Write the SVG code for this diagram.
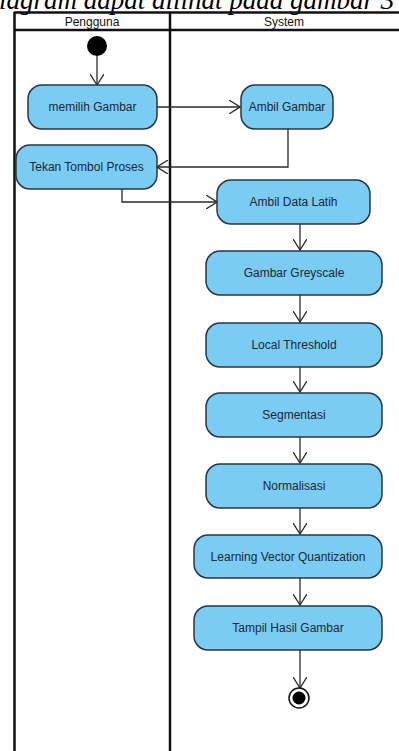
<svg xmlns="http://www.w3.org/2000/svg" width="399" height="751" viewBox="0 0 399 751">
<style>
.cap{font-family:"Liberation Serif","Times New Roman",serif;font-style:italic;font-size:27px;fill:#000}
.hdr{font-family:"Liberation Sans",Arial,sans-serif;font-size:12px;fill:#111;text-anchor:middle}
.lane{fill:none;stroke:#111;stroke-width:2.5}
.act rect{fill:#7accf2;stroke:#2b3440;stroke-width:1.5}
.act text{font-family:"Liberation Sans",Arial,sans-serif;font-size:12px;fill:#1c2636;text-anchor:middle;dominant-baseline:central}
.edge{fill:none;stroke:#2a2a2a;stroke-width:1.3;marker-end:url(#open)}
</style>
<defs>
<marker id="open" viewBox="0 0 12 14" refX="11" refY="7" markerWidth="12" markerHeight="14" markerUnits="userSpaceOnUse" orient="auto">
<path d="M0,0 L11,7 L0,14" fill="none" stroke="#2a2a2a" stroke-width="1.3"/>
</marker>
</defs>
<rect width="399" height="751" fill="#fff"/>
<text class="cap" x="-1" y="9">iagram dapat dilihat pada gambar 3</text>
<g id="lanes">
<line class="lane" x1="14" y1="12.5" x2="399" y2="12.5" stroke-width="1.5"/>
<line class="lane" x1="14" y1="30" x2="399" y2="30"/>
<line class="lane" x1="14.5" y1="12" x2="14.5" y2="751"/>
<line class="lane" x1="170" y1="12" x2="170" y2="751"/>
<text class="hdr" x="92" y="25.5">Pengguna</text>
<text class="hdr" x="284" y="25.5">System</text>
</g>
<g id="connectors">
<line class="edge" x1="97" y1="56" x2="97" y2="85"/>
<line class="edge" x1="157" y1="107" x2="240" y2="107"/>
<polyline class="edge" points="288,129 288,167 157,167"/>
<polyline class="edge" points="122,189 122,202 217,202"/>
<line class="edge" x1="300" y1="224" x2="300" y2="250"/>
<line class="edge" x1="300" y1="295" x2="300" y2="322"/>
<line class="edge" x1="300" y1="367" x2="300" y2="392"/>
<line class="edge" x1="300" y1="437" x2="300" y2="463"/>
<line class="edge" x1="300" y1="508" x2="300" y2="534"/>
<line class="edge" x1="300" y1="578" x2="300" y2="605"/>
<line class="edge" x1="300" y1="650" x2="300" y2="688"/>
</g>
<g id="start"><circle cx="97" cy="46" r="10" fill="#000"/></g>
<g id="memilih" class="act"><rect x="28" y="85" width="129" height="44" rx="14"/><text x="92.5" y="107">memilih Gambar</text></g>
<g id="ambilGambar" class="act"><rect x="241" y="85" width="92" height="44" rx="14"/><text x="287" y="107">Ambil Gambar</text></g>
<g id="tekan" class="act"><rect x="16" y="145" width="141" height="44" rx="14"/><text x="86.5" y="167">Tekan Tombol Proses</text></g>
<g id="ambilData" class="act"><rect x="217" y="180" width="153" height="44" rx="14"/><text x="293.5" y="202">Ambil Data Latih</text></g>
<g id="greyscale" class="act"><rect x="206" y="251" width="176" height="44" rx="14"/><text x="294" y="273">Gambar Greyscale</text></g>
<g id="threshold" class="act"><rect x="206" y="323" width="176" height="44" rx="14"/><text x="294" y="345">Local Threshold</text></g>
<g id="segmentasi" class="act"><rect x="206" y="393" width="176" height="44" rx="14"/><text x="294" y="415">Segmentasi</text></g>
<g id="normalisasi" class="act"><rect x="206" y="464" width="176" height="44" rx="14"/><text x="294" y="486">Normalisasi</text></g>
<g id="lvq" class="act"><rect x="194" y="535" width="188" height="43" rx="14"/><text x="288" y="556.5">Learning Vector Quantization</text></g>
<g id="tampil" class="act"><rect x="194" y="606" width="188" height="44" rx="14"/><text x="288" y="628">Tampil Hasil Gambar</text></g>
<g id="end"><circle cx="299" cy="698" r="10" fill="#fff" stroke="#111" stroke-width="1.5"/><circle cx="299" cy="698" r="6.5" fill="#000"/></g>
</svg>
